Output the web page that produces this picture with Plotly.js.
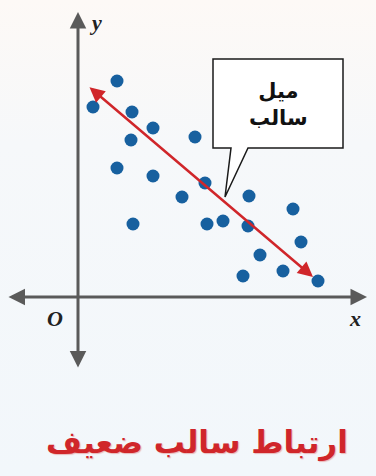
<!DOCTYPE html>
<html>
<head>
<meta charset="utf-8">
<script src="https://cdn.plot.ly/plotly-3.0.1.min.js"></script>
<style>
  html, body { margin: 0; padding: 0; }
  body { width: 376px; height: 476px; background: linear-gradient(180deg, #fdf9f6 0%, #f6f8fa 30%, #f2f7fb 100%); }
  #chart { width: 376px; height: 476px; }
</style>
</head>
<body>
<div id="chart"></div>
<script>
// Scatter points showing a weak negative correlation
const xValues = [1.95, 0.75, 2.7, 3.75, 2.65, 5.85, 1.95, 3.75, 6.35, 5.2, 8.55,
                 10.75, 2.75, 6.45, 7.25, 8.5, 11.15, 9.1, 8.25, 10.25, 12.0];
const yValues = [10.8, 9.5, 9.25, 8.45, 7.85, 8.0, 6.45, 6.05, 5.7, 5.0, 5.05,
                 4.4, 3.65, 3.65, 3.8, 3.55, 2.75, 2.1, 1.05, 1.3, 0.8];

// Trend line end points (double-headed arrow)
const trendX = [0.5, 11.75];
const trendY = [10.55, 1.0];

// Labels
const titleText = 'ارتباط سالب ضعيف';
const calloutText = 'ميل<br>سالب';
const axisLabels = { x: 'x', y: 'y', origin: 'O' };

const axisGray = '#5a5a5a';
const red = '#d0262a';

const data = [{
  type: 'scatter',
  mode: 'markers',
  x: xValues,
  y: yValues,
  marker: { size: 13, color: '#17609f' },
  hoverinfo: 'skip'
}];

const annotations = [
  // x axis with arrowheads at both ends
  { x: 14.45, y: 0, ax: -3.55, ay: 0, xref: 'x', yref: 'y', axref: 'x', ayref: 'y',
    text: '', showarrow: true, arrowhead: 2, arrowside: 'end+start', arrowsize: 1.1,
    arrowwidth: 3, arrowcolor: axisGray, standoff: 0, startstandoff: 0 },
  // y axis with arrowheads at both ends
  { x: 0, y: 14.25, ax: 0, ay: -3.6, xref: 'x', yref: 'y', axref: 'x', ayref: 'y',
    text: '', showarrow: true, arrowhead: 2, arrowside: 'end+start', arrowsize: 1.1,
    arrowwidth: 3, arrowcolor: axisGray, standoff: 0, startstandoff: 0 },
  // trend line
  { x: trendX[1], y: trendY[1], ax: trendX[0], ay: trendY[0], xref: 'x', yref: 'y',
    axref: 'x', ayref: 'y', text: '', showarrow: true, arrowhead: 2, arrowside: 'end+start',
    arrowsize: 1.2, arrowwidth: 2.5, arrowcolor: red, standoff: 0, startstandoff: 0 },
  // axis letters
  { x: 0.85, y: 13.75, xref: 'x', yref: 'y', text: '<b><i>' + axisLabels.y + '</i></b>',
    showarrow: false, font: { family: 'Liberation Serif, serif', size: 22, color: '#222' } },
  { x: 13.85, y: -1.05, xref: 'x', yref: 'y', text: '<b><i>' + axisLabels.x + '</i></b>',
    showarrow: false, font: { family: 'Liberation Serif, serif', size: 22, color: '#222' } },
  { x: -1.15, y: -1.05, xref: 'x', yref: 'y', text: '<b><i>' + axisLabels.origin + '</i></b>',
    showarrow: false, font: { family: 'Liberation Serif, serif', size: 22, color: '#222' } },
  // callout text
  { x: 10.0, y: 9.65, xref: 'x', yref: 'y', text: '<b>' + calloutText + '</b>',
    showarrow: false, align: 'center',
    font: { family: 'DejaVu Sans, sans-serif', size: 21, color: '#111' } },
  // title below the chart
  { x: 5.95, y: -7.25, xref: 'x', yref: 'y', text: '<b>' + titleText + '</b>',
    showarrow: false,
    font: { family: 'DejaVu Sans, sans-serif', size: 31, color: red,
            shadow: '1px 1px 1px #e8b8b8' } }
];

const shapes = [
  // callout box with pointer toward the trend line
  { type: 'path', xref: 'x', yref: 'y', layer: 'above',
    path: 'M 6.75 11.9 L 13.25 11.9 L 13.25 7.45 L 8.5 7.45 L 7.35 5.0 L 7.65 7.45 L 6.75 7.45 Z',
    fillcolor: '#ffffff', line: { color: '#1a1a1a', width: 1.5 } }
];

const layout = {
  width: 376,
  height: 476,
  margin: { l: 0, r: 0, t: 0, b: 0 },
  paper_bgcolor: 'rgba(0,0,0,0)',
  plot_bgcolor: 'rgba(0,0,0,0)',
  showlegend: false,
  xaxis: { range: [-3.9, 14.9], showgrid: false, zeroline: false, showticklabels: false,
           ticks: '', showline: false, fixedrange: true },
  yaxis: { range: [-8.95, 14.85], showgrid: false, zeroline: false, showticklabels: false,
           ticks: '', showline: false, fixedrange: true },
  annotations: annotations,
  shapes: shapes
};

Plotly.newPlot('chart', data, layout, { displayModeBar: false, staticPlot: true });
</script>
</body>
</html>
